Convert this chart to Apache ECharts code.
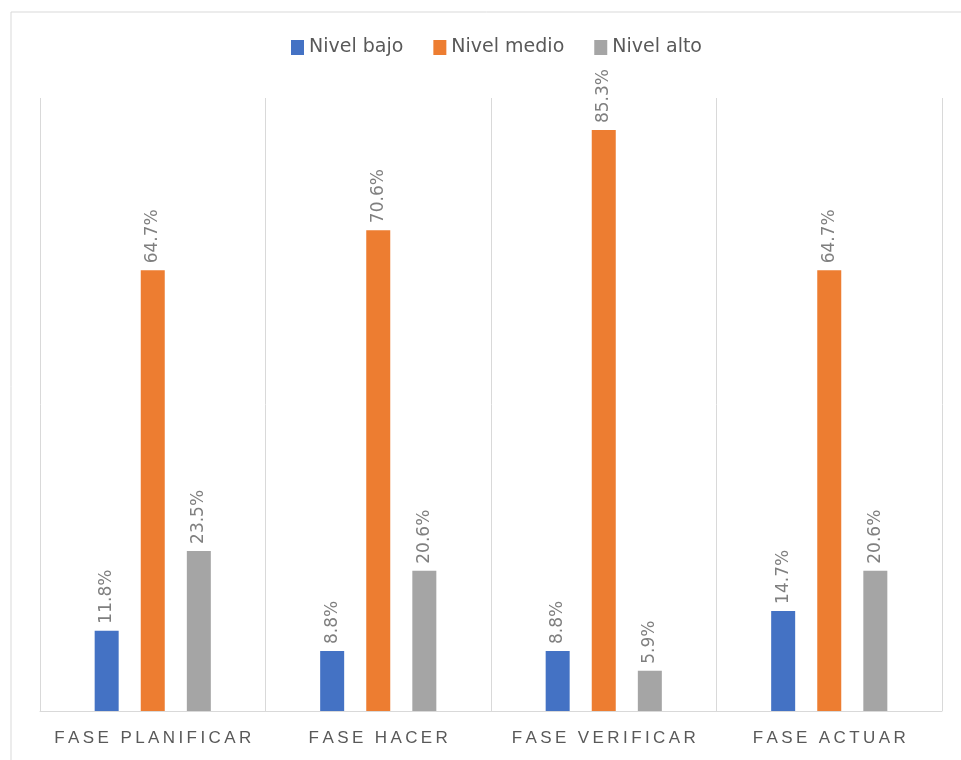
<!DOCTYPE html>
<html>
<head>
<meta charset="utf-8">
<script src="https://cdn.jsdelivr.net/npm/echarts@6/dist/echarts.min.js"></script>
<style>html,body{margin:0;padding:0;background:#fff;}#c{width:961px;height:760px;}</style>
</head>
<body>
<div id="c"></div>
<script>
const categories = ['FASE PLANIFICAR', 'FASE HACER', 'FASE VERIFICAR', 'FASE ACTUAR'];
const seriesNames = ['Nivel bajo', 'Nivel medio', 'Nivel alto'];
const nivelBajo = [11.8, 8.8, 8.8, 14.7];
const nivelMedio = [64.7, 70.6, 85.3, 64.7];
const nivelAlto = [23.5, 20.6, 5.9, 20.6];
const colors = ['#4472C4', '#ED7D31', '#A5A5A5'];

const chart = echarts.init(document.getElementById('c'));
const labelCfg = {
  show: true, position: 'top', rotate: 90, align: 'left', verticalAlign: 'middle',
  distance: 7, color: '#7f7f7f', fontSize: 17, fontFamily: 'DejaVu Sans',
  formatter: p => p.value.toFixed(1) + '%'
};
function mk(name, data, color) {
  return { name, type: 'bar', data, barWidth: 24, barGap: '92%',
    itemStyle: { color }, label: labelCfg };
}
chart.setOption({
  animation: false,
  graphic: [{ type: 'rect', shape: { x: 11, y: 12, width: 1000, height: 800 },
    style: { fill: 'none', stroke: '#d9d9d9', lineWidth: 1 }, silent: true }],
  legend: {
    top: 33, left: 286, itemWidth: 13, itemHeight: 15, itemGap: 30,
    icon: 'rect',
    textStyle: { color: '#595959', fontSize: 19, fontFamily: 'DejaVu Sans' },
    data: seriesNames
  },
  grid: { left: 40, right: 19, top: 98, bottom: 49, containLabel: false },
  xAxis: {
    type: 'category', data: categories, boundaryGap: true,
    axisLine: { lineStyle: { color: '#d9d9d9', width: 1 } },
    axisTick: { show: false },
    splitLine: { show: true, interval: 0, lineStyle: { color: '#d9d9d9', width: 1 } },
    axisLabel: { interval: 0, margin: 19, color: '#595959', fontSize: 17, fontFamily: 'Liberation Sans',
      formatter: v => v.split('').join('\u2009') }
  },
  yAxis: { type: 'value', min: 0, max: 90, show: false, splitLine: { show: false } },
  series: [mk(seriesNames[0], nivelBajo, colors[0]), mk(seriesNames[1], nivelMedio, colors[1]), mk(seriesNames[2], nivelAlto, colors[2])]
});
</script>
</body>
</html>
